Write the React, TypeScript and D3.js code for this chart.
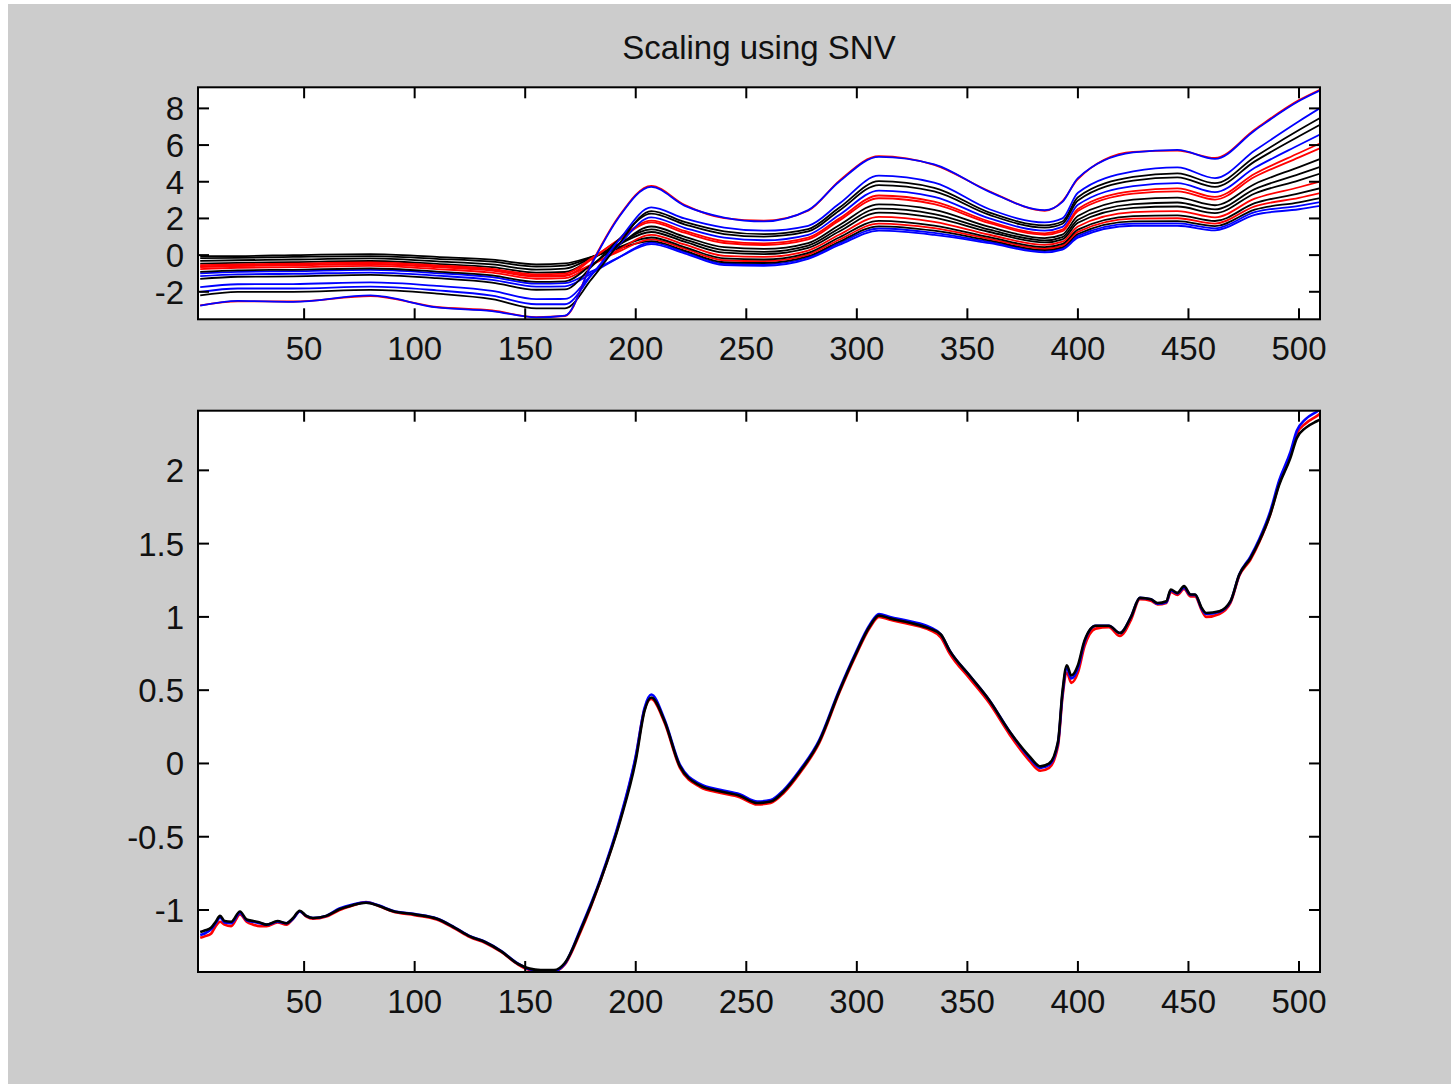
import React from "react";
import * as d3 from "d3";

// ---------- tick values ----------
const xTicks = [50, 100, 150, 200, 250, 300, 350, 400, 450, 500];
const topYTicks = [-2, 0, 2, 4, 6, 8];
const bottomYTicks = [-1, -0.5, 0, 0.5, 1, 1.5, 2];
const titleText = "Scaling using SNV";

// ---------- top panel: raw spectra (values read at anchor variables) ----------
const rawX = [3, 20, 45, 80, 110, 135, 155, 168, 180, 192, 207, 222, 240, 258, 278, 292, 310, 335, 360, 385, 393, 400, 425, 445, 462, 480, 500, 510];

const rawT = [-2.76, -2.5, -2.55, -2.2, -2.85, -3.05, -3.4, -3.3, -0.5, 2.0, 3.72, 2.7, 2.05, 1.84, 2.45, 4.0, 5.36, 4.95, 3.45, 2.45, 2.9, 4.2, 5.6, 5.74, 5.25, 6.8, 8.4, 9.0];
const rawTr = [-2.74, -2.52, -2.53, -2.24, -2.83, -3.02, -3.38, -3.32, -0.45, 2.05, 3.78, 2.74, 2.02, 1.88, 2.42, 4.05, 5.4, 4.92, 3.48, 2.42, 2.95, 4.15, 5.63, 5.7, 5.3, 6.85, 8.45, 9.05];
const raw2 = [-2.01, -1.82, -1.82, -1.72, -1.92, -2.21, -2.68, -2.68, -1.1, 0.75, 2.6, 2.0, 1.5, 1.33, 1.6, 2.8, 4.33, 3.95, 2.5, 1.78, 2.0, 3.4, 4.56, 4.78, 4.2, 5.7, 7.3, 8.05];
const raw3 = [-2.2, -2.0, -2.0, -1.9, -2.1, -2.4, -2.9, -2.9, -1.31, 0.55, 2.4, 1.81, 1.3, 1.14, 1.42, 2.58, 4.03, 3.67, 2.32, 1.62, 1.83, 3.16, 4.26, 4.46, 3.92, 5.35, 6.82, 7.51];
const raw4 = [-1.3, -1.18, -1.16, -1.08, -1.26, -1.5, -1.89, -1.87, -0.63, 0.81, 2.26, 1.68, 1.15, 1.01, 1.29, 2.42, 3.82, 3.47, 2.19, 1.5, 1.71, 2.98, 4.06, 4.24, 3.72, 5.11, 6.48, 7.14];
const raw5 = [-1.75, -1.59, -1.58, -1.49, -1.68, -1.95, -2.4, -2.39, -1.06, 0.5, 2.06, 1.49, 0.95, 0.81, 1.11, 2.19, 3.52, 3.18, 2.0, 1.34, 1.54, 2.74, 3.76, 3.92, 3.43, 4.76, 6.0, 6.6];
const raw6 = [-0.65, -0.6, -0.56, -0.5, -0.66, -0.85, -1.17, -1.14, -0.23, 0.82, 1.88, 1.32, 0.76, 0.64, 0.95, 1.99, 3.25, 2.92, 1.83, 1.19, 1.39, 2.52, 3.49, 3.64, 3.17, 4.44, 5.57, 6.12];
const raw7 = [-0.55, -0.5, -0.46, -0.4, -0.56, -0.75, -1.05, -1.01, -0.17, 0.8, 1.78, 1.22, 0.66, 0.55, 0.86, 1.88, 3.1, 2.78, 1.74, 1.11, 1.3, 2.4, 3.35, 3.48, 3.03, 4.27, 5.33, 5.85];
const raw8 = [-0.91, -0.83, -0.8, -0.73, -0.9, -1.11, -1.46, -1.43, -0.53, 0.51, 1.56, 1.01, 0.43, 0.34, 0.66, 1.63, 2.77, 2.47, 1.54, 0.93, 1.12, 2.13, 3.02, 3.13, 2.72, 3.88, 4.8, 5.26];
const raw9 = [-0.46, -0.42, -0.38, -0.32, -0.48, -0.66, -0.96, -0.92, -0.22, 0.59, 1.4, 0.86, 0.27, 0.18, 0.52, 1.45, 2.53, 2.24, 1.39, 0.8, 0.98, 1.93, 2.78, 2.87, 2.49, 3.6, 4.42, 4.83];
const raw10 = [-0.31, -0.28, -0.24, -0.18, -0.34, -0.51, -0.79, -0.74, -0.14, 0.56, 1.26, 0.73, 0.13, 0.05, 0.39, 1.29, 2.32, 2.04, 1.26, 0.69, 0.86, 1.76, 2.58, 2.65, 2.29, 3.36, 4.08, 4.46];
const raw11 = [-0.76, -0.69, -0.66, -0.59, -0.76, -0.96, -1.29, -1.26, -0.55, 0.27, 1.1, 0.58, -0.04, -0.1, 0.25, 1.11, 2.08, 1.81, 1.11, 0.56, 0.73, 1.56, 2.34, 2.4, 2.06, 3.08, 3.7, 4.03];
const raw12 = [-0.16, -0.15, -0.1, -0.05, -0.2, -0.36, -0.62, -0.57, -0.11, 0.42, 0.96, 0.44, -0.18, -0.24, 0.12, 0.96, 1.87, 1.61, 0.98, 0.44, 0.61, 1.39, 2.13, 2.17, 1.86, 2.83, 3.36, 3.66];
const raw13 = [-0.61, -0.56, -0.52, -0.46, -0.62, -0.81, -1.12, -1.09, -0.51, 0.18, 0.86, 0.35, -0.28, -0.33, 0.03, 0.84, 1.72, 1.47, 0.89, 0.36, 0.52, 1.27, 1.99, 2.01, 1.72, 2.66, 3.12, 3.39];
const raw14 = [-0.05, -0.05, 0.0, 0.05, -0.1, -0.25, -0.5, -0.45, -0.09, 0.34, 0.76, 0.25, -0.39, -0.43, -0.06, 0.73, 1.57, 1.33, 0.8, 0.28, 0.44, 1.15, 1.84, 1.85, 1.58, 2.48, 2.88, 3.12];
const raw15 = [-1.15, -1.05, -1.02, -0.95, -1.12, -1.35, -1.72, -1.7, -0.99, -0.15, 0.68, 0.18, -0.47, -0.5, -0.13, 0.64, 1.45, 1.21, 0.72, 0.22, 0.37, 1.05, 1.72, 1.73, 1.46, 2.34, 2.69, 2.9];
const raw16 = [-1.0, -0.91, -0.88, -0.81, -0.98, -1.2, -1.56, -1.53, -0.89, -0.15, 0.6, 0.1, -0.55, -0.58, -0.2, 0.55, 1.33, 1.1, 0.65, 0.15, 0.3, 0.95, 1.6, 1.6, 1.35, 2.2, 2.5, 2.69];

// drawing order (first drawn is underneath)
const rawSeries: { values: number[]; color: string }[] = [
  { values: raw16, color: "#0000ff" },
  { values: raw15, color: "#0000ff" },
  { values: raw14, color: "#000000" },
  { values: raw13, color: "#ff0000" },
  { values: raw12, color: "#000000" },
  { values: raw11, color: "#ff0000" },
  { values: raw10, color: "#000000" },
  { values: raw9, color: "#000000" },
  { values: raw8, color: "#000000" },
  { values: raw7, color: "#ff0000" },
  { values: raw6, color: "#ff0000" },
  { values: raw5, color: "#0000ff" },
  { values: raw4, color: "#000000" },
  { values: raw3, color: "#000000" },
  { values: raw2, color: "#0000ff" },
  { values: rawTr, color: "#ff0000" },
  { values: rawT, color: "#0000ff" },
];

// ---------- bottom panel: SNV-corrected spectra ----------
const snvX = [3, 5, 8, 10, 12, 14, 17, 21, 24, 27, 30, 33, 38, 42, 45, 48, 51, 54, 60, 66, 72, 78, 84, 90, 100, 110, 118, 125, 132, 139, 147, 152, 157, 163, 168, 175, 184, 193, 200, 204, 207, 213, 220, 229, 238, 247, 255, 261, 267, 274, 283, 292, 299, 306, 310, 315, 324, 333, 338, 342, 351, 360, 369, 378, 383, 387, 391, 393, 395, 397, 400, 403, 408, 414, 419, 424, 428, 433, 436, 440, 442, 445, 448, 451, 453, 456, 458, 464, 469, 473, 478, 482, 487, 491, 496, 499, 503, 508, 510];
const snvBlack = [-1.15, -1.14, -1.12, -1.08, -1.04, -1.075, -1.08, -1.01, -1.065, -1.075, -1.085, -1.1, -1.075, -1.09, -1.055, -1.005, -1.04, -1.055, -1.04, -0.995, -0.967, -0.95, -0.973, -1.007, -1.03, -1.06, -1.12, -1.18, -1.22, -1.28, -1.37, -1.4, -1.41, -1.41, -1.36, -1.14, -0.8, -0.39, 0.02, 0.36, 0.45, 0.29, -0.02, -0.15, -0.19, -0.22, -0.27, -0.26, -0.19, -0.06, 0.15, 0.49, 0.73, 0.94, 1.01, 0.99, 0.96, 0.92, 0.88, 0.77, 0.6, 0.43, 0.22, 0.05, -0.02, 0.0, 0.15, 0.49, 0.67, 0.6, 0.67, 0.84, 0.94, 0.94, 0.89, 1.0, 1.13, 1.12, 1.095, 1.107, 1.187, 1.164, 1.21, 1.153, 1.153, 1.061, 1.027, 1.039, 1.107, 1.289, 1.4, 1.516, 1.7, 1.9, 2.08, 2.22, 2.29, 2.335, 2.35];
const snvRed = [-1.19, -1.18, -1.16, -1.11, -1.08, -1.1, -1.11, -1.03, -1.08, -1.1, -1.11, -1.11, -1.085, -1.1, -1.06, -1.01, -1.045, -1.06, -1.045, -1.0, -0.97, -0.945, -0.975, -1.01, -1.035, -1.065, -1.125, -1.185, -1.225, -1.285, -1.375, -1.41, -1.42, -1.42, -1.37, -1.15, -0.8, -0.38, 0.04, 0.37, 0.44, 0.28, -0.03, -0.16, -0.2, -0.23, -0.28, -0.27, -0.2, -0.07, 0.14, 0.48, 0.72, 0.93, 1.0, 0.98, 0.95, 0.91, 0.86, 0.75, 0.58, 0.41, 0.2, 0.02, -0.05, -0.03, 0.12, 0.45, 0.62, 0.55, 0.62, 0.8, 0.92, 0.93, 0.87, 0.98, 1.12, 1.11, 1.085, 1.095, 1.17, 1.15, 1.19, 1.14, 1.14, 1.045, 1.0, 1.02, 1.095, 1.28, 1.39, 1.51, 1.7, 1.91, 2.1, 2.25, 2.32, 2.37, 2.39];
const snvBlue = [-1.17, -1.16, -1.13, -1.09, -1.05, -1.085, -1.09, -1.02, -1.07, -1.08, -1.09, -1.1, -1.08, -1.09, -1.06, -1.01, -1.04, -1.055, -1.04, -0.99, -0.962, -0.948, -0.97, -1.005, -1.028, -1.058, -1.118, -1.178, -1.218, -1.278, -1.368, -1.405, -1.415, -1.415, -1.365, -1.13, -0.79, -0.37, 0.05, 0.38, 0.47, 0.3, -0.01, -0.14, -0.18, -0.21, -0.26, -0.25, -0.18, -0.05, 0.16, 0.5, 0.74, 0.95, 1.02, 1.0, 0.97, 0.93, 0.88, 0.77, 0.6, 0.43, 0.22, 0.04, -0.03, -0.01, 0.14, 0.47, 0.65, 0.58, 0.65, 0.83, 0.94, 0.94, 0.89, 1.0, 1.13, 1.12, 1.09, 1.1, 1.18, 1.16, 1.2, 1.15, 1.15, 1.055, 1.02, 1.035, 1.105, 1.29, 1.41, 1.53, 1.72, 1.93, 2.12, 2.27, 2.35, 2.4, 2.42];

const snvSeries: { values: number[]; color: string }[] = [
  { values: snvRed, color: "#ff0000" },
  { values: snvBlue, color: "#0000ff" },
  { values: snvBlack, color: "#000000" },
];

const FONT = "'Liberation Sans', Arial, Helvetica, sans-serif";

function Panel(props: {
  top: number;
  bottom: number;
  left: number;
  right: number;
  yDomain: [number, number];
  yTicks: number[];
  xData: number[];
  series: { values: number[]; color: string }[];
  strokeWidth: number;
  id: string;
}) {
  const { top, bottom, left, right, yDomain, yTicks, xData, series, strokeWidth, id } = props;
  const x = d3.scaleLinear().domain([2, 509.5]).range([left, right]);
  const y = d3.scaleLinear().domain(yDomain).range([bottom, top]);
  const line = d3
    .line<number>()
    .x((_, i) => x(xData[i]))
    .y((d) => y(d))
    .curve(d3.curveMonotoneX);
  const tl = 11;
  return (
    <g>
      <rect x={left} y={top} width={right - left} height={bottom - top} fill="#ffffff" />
      <clipPath id={id}>
        <rect x={left} y={top} width={right - left} height={bottom - top} />
      </clipPath>
      <g clipPath={`url(#${id})`}>
        {series.map((s, i) => (
          <path key={i} d={line(s.values) || ""} fill="none" stroke={s.color} strokeWidth={strokeWidth} strokeLinejoin="round" />
        ))}
      </g>
      {xTicks.map((t) => (
        <g key={"x" + t}>
          <line x1={x(t)} x2={x(t)} y1={bottom} y2={bottom - tl} stroke="#000" strokeWidth={2} />
          <line x1={x(t)} x2={x(t)} y1={top} y2={top + tl} stroke="#000" strokeWidth={2} />
          <text x={x(t)} y={bottom + 41} textAnchor="middle" fontSize={33} fontFamily={FONT} fill="#111">
            {String(t)}
          </text>
        </g>
      ))}
      {yTicks.map((t) => (
        <g key={"y" + t}>
          <line x1={left} x2={left + tl} y1={y(t)} y2={y(t)} stroke="#000" strokeWidth={2} />
          <line x1={right} x2={right - tl} y1={y(t)} y2={y(t)} stroke="#000" strokeWidth={2} />
          <text x={left - 14} y={y(t)} dy="0.36em" textAnchor="end" fontSize={33} fontFamily={FONT} fill="#111">
            {String(t)}
          </text>
        </g>
      ))}
      <rect x={left} y={top} width={right - left} height={bottom - top} fill="none" stroke="#000" strokeWidth={2} />
    </g>
  );
}

export default function App() {
  const W = 1451;
  const H = 1084;
  const left = 198;
  const right = 1320;
  return (
    <svg width={W} height={H} style={{ position: "absolute", left: 0, top: 0, display: "block" }}>
      <rect x={0} y={0} width={W} height={H} fill="#ffffff" />
      <rect x={8} y={4} width={W - 8} height={H - 4} fill="#cccccc" />
      <text x={(left + right) / 2} y={59} textAnchor="middle" fontSize={33} fontFamily={FONT} fill="#111">
        {titleText}
      </text>
      <Panel
        id="clipTop"
        top={87.3}
        bottom={319.3}
        left={left}
        right={right}
        yDomain={[-3.5, 9.15]}
        yTicks={topYTicks}
        xData={rawX}
        series={rawSeries}
        strokeWidth={1.8}
      />
      <Panel
        id="clipBottom"
        top={410.7}
        bottom={972}
        left={left}
        right={right}
        yDomain={[-1.423, 2.407]}
        yTicks={bottomYTicks}
        xData={snvX}
        series={snvSeries}
        strokeWidth={2.6}
      />
    </svg>
  );
}
